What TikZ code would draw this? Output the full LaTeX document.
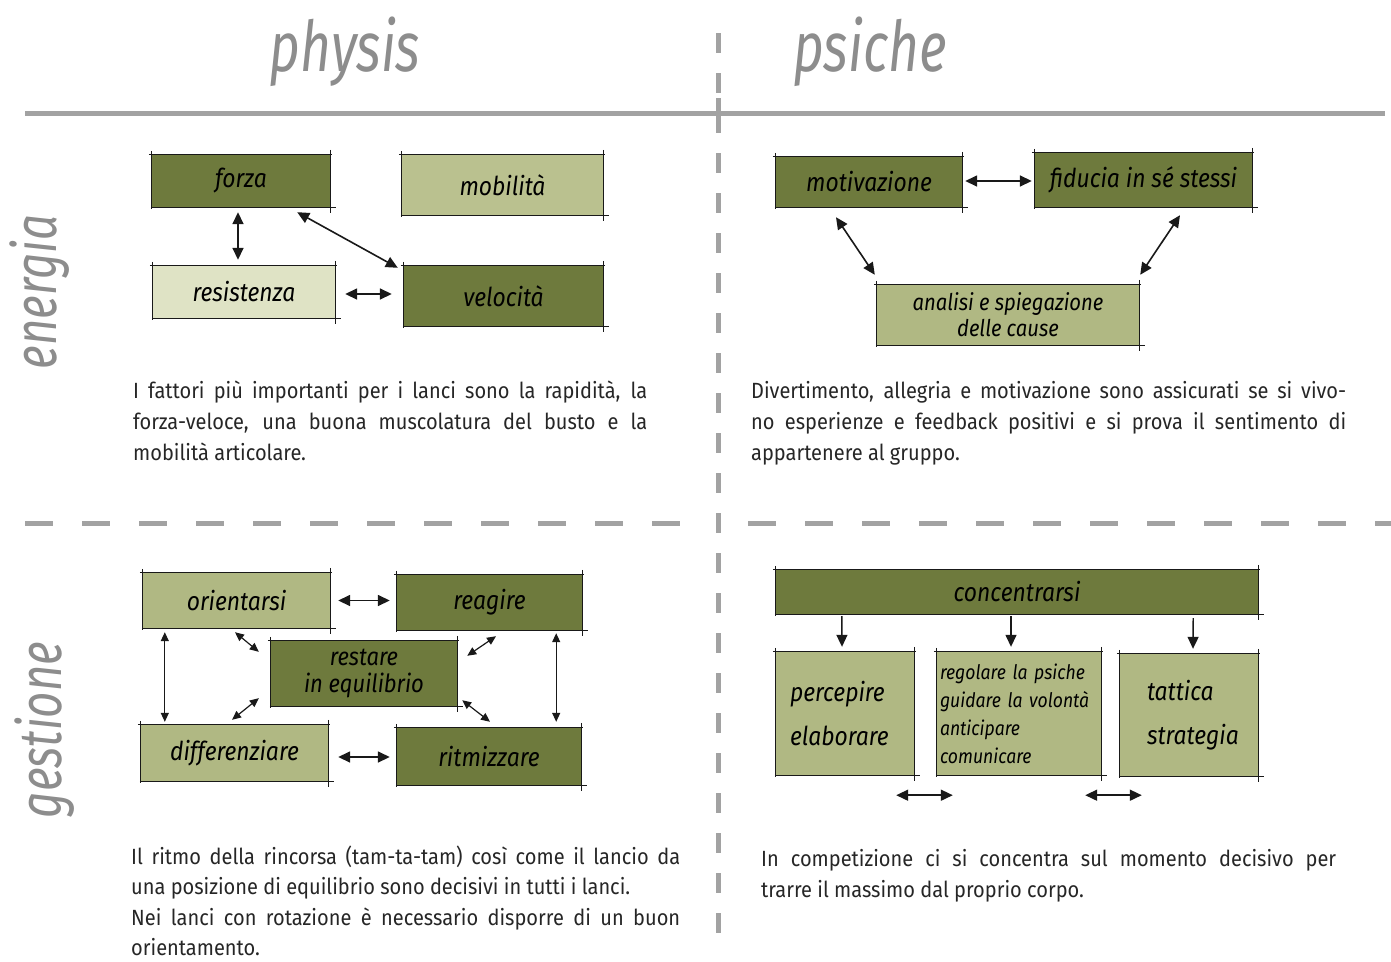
\documentclass[tikz,border=0pt]{standalone}
\usepackage{fontspec}
\setmainfont{Fira Sans}
\newfontfamily\bodyfont[FakeStretch=0.91]{Fira Sans}
\newfontfamily\hand[FakeStretch=0.88]{Fira Sans}
\newfontfamily\titlefont[FakeStretch=0.76]{Fira Sans}
\usetikzlibrary{arrows.meta,calc}
\definecolor{dkg}{HTML}{6E7A3D}
\definecolor{mdg}{HTML}{B0B883}
\definecolor{ltg}{HTML}{DFE3C5}
\definecolor{mbg}{HTML}{BAC18F}
\definecolor{ttlgray}{HTML}{8D8D8D}
\definecolor{rulegray}{HTML}{A2A2A2}
\definecolor{txt}{HTML}{262626}
\newcommand\skb[1]{\draw[skl] ($(#1.north west)+(-3,0)$) -- ($(#1.north east)+(2,0)$)
  ($(#1.south west)+(-1,0)$) -- ($(#1.south east)+(6,0)$)
  ($(#1.north west)+(0,-4)$) -- ($(#1.south west)+(0,2)$)
  ($(#1.north east)+(0,-5)$) -- ($(#1.south east)+(0,6)$);}
\begin{document}
\begin{tikzpicture}[x=1pt,y=-1pt,
  box/.style={inner sep=0pt, text=black, font=\hand\itshape\fontsize{26}{28}\selectfont, align=center},
  skl/.style={draw=black!90, line width=1.2pt},
  arr/.style={draw=black!90, line width=1.6pt, {Triangle[length=12pt,width=11pt]}-{Triangle[length=12pt,width=11pt]}},
  sarr/.style={draw=black!90, line width=1.2pt, {Triangle[length=9pt,width=8pt]}-{Triangle[length=9pt,width=8pt]}},
  darr/.style={draw=black!90, line width=1.4pt, -{Triangle[length=12pt,width=11pt]}},
  ttl/.style={text=ttlgray, font=\titlefont\itshape\fontsize{70}{74}\selectfont, inner sep=0pt},
  side/.style={text=ttlgray, font=\titlefont\itshape\fontsize{60}{64}\selectfont, inner sep=0pt, rotate=90},
  para/.style={text=txt, font=\bodyfont\fontsize{22}{31}\selectfont, inner sep=0pt, anchor=base west},
  hrule/.style={draw=rulegray, line width=5pt},
]
\useasboundingbox[fill=white] (0,0) rectangle (1391,961);

% rules
\draw[hrule] (25,113) -- (1385,113);
\draw[hrule, dash pattern=on 20pt off 20pt] (718,33) -- (718,945);
\draw[hrule] (718,98) -- (718,128);
\draw[hrule, dash pattern=on 28pt off 29pt] (25,523) -- (690,523);
\draw[hrule, dash pattern=on 28pt off 29pt] (748,523) -- (1391,523);

% titles
\node[ttl] (physis) at (345,52) {physis};
\node[ttl] (psiche) at (870,52) {psiche};
\node[side] (energia) at (40,292) {energia};
\node[side] (gestione) at (45,730) {gestione};

% ---------- energia / physis
\node[box, fill=dkg, minimum width=178pt, minimum height=52pt] (forza) at (241,181) {forza};
\node[box, fill=mbg, minimum width=201pt, minimum height=60pt] (mob) at (502.5,185) {mobilità};
\node[box, fill=ltg, minimum width=182pt, minimum height=52pt] (res) at (244,292) {resistenza};
\node[box, fill=dkg, minimum width=199pt, minimum height=60pt] (velo) at (503.5,296) {velocità};
\skb{forza}\skb{mob}\skb{res}\skb{velo}
\draw[arr] ($(forza.south)+(-3,5)$) -- ($(res.north)+(-6,-6)$);
\draw[arr] ($(forza.south east)+(-33,5)$) -- ($(velo.north west)+(-6,2)$);
\draw[arr] ($(res.east)+(10,2)$) -- ($(velo.west)+(-12,-2)$);

\node[para] (t1) at (133,398) {\parbox[t]{514pt}{I fattori più importanti per i lanci sono la rapidità, la\linebreak forza-veloce, una buona muscolatura del busto e la\linebreak mobilità articolare.}};

% ---------- energia / psiche
\node[box, fill=dkg, minimum width=186pt, minimum height=50pt] (motiv) at (869,182) {motivazione};
\node[box, fill=dkg, minimum width=217pt, minimum height=54pt] (fid) at (1143.5,180) {fiducia in sé stessi};
\node[box, fill=mdg, minimum width=262pt, minimum height=60pt, font=\hand\itshape\fontsize{23}{26}\selectfont] (anal) at (1008,315) {analisi e spiegazione\\delle cause};
\skb{motiv}\skb{fid}\skb{anal}
\draw[arr] ($(motiv.east)+(3,-1)$) -- ($(fid.west)+(-3,1)$);
\draw[arr] ($(motiv.south)+(-33,10)$) -- ($(anal.north west)+(-2,-10)$);
\draw[arr] ($(fid.south)+(36.5,8)$) -- ($(anal.north east)+(1,-10)$);

\node[para] (t2) at (751,398) {\parbox[t]{595pt}{Divertimento, allegria e motivazione sono assicurati se si vivo-\linebreak no esperienze e feedback positivi e si prova il sentimento di\linebreak appartenere al gruppo.}};

% ---------- gestione / physis
\node[box, fill=mdg, minimum width=187pt, minimum height=55pt] (ori) at (236.5,600.5) {orientarsi};
\node[box, fill=dkg, minimum width=185pt, minimum height=55pt] (rea) at (489.5,602.5) {reagire};
\node[box, fill=dkg, minimum width=186pt, minimum height=65pt, font=\hand\itshape\fontsize{25}{27}\selectfont] (rest) at (364,673.5) {restare\\in equilibrio};
\node[box, fill=mdg, minimum width=187pt, minimum height=56pt] (diff) at (234.5,753) {differenziare};
\node[box, fill=dkg, minimum width=184pt, minimum height=57pt] (ritm) at (489,756.5) {ritmizzare};
\skb{ori}\skb{rea}\skb{rest}\skb{diff}\skb{ritm}
\draw[arr] ($(ori.east)+(8,0)$) -- ($(rea.west)+(-7,-2)$);
\draw[arr] ($(diff.east)+(10,4)$) -- ($(ritm.west)+(-7,0.5)$);
\draw[sarr] ($(ori.south west)+(22,4)$) -- ($(diff.north west)+(24,-3)$);
\draw[sarr] ($(rea.south east)+(-26,3)$) -- ($(ritm.north east)+(-25,-6)$);
\draw[sarr] ($(ori.south)+(-1.5,4)$) -- ($(rest.north west)+(-12,11)$);
\draw[sarr] ($(rea.south)+(6.5,6)$) -- ($(rest.north east)+(10,15)$);
\draw[sarr] ($(diff.north)+(-2.5,-5)$) -- ($(rest.south west)+(-12,-8)$);
\draw[sarr] ($(ritm.north)+(1,-6)$) -- ($(rest.south east)+(5,-6)$);

\node[para, font=\bodyfont\fontsize{22}{30.5}\selectfont] (t3) at (131,864) {\parbox[t]{549pt}{Il ritmo della rincorsa (tam-ta-tam) così come il lancio da\linebreak una posizione di equilibrio sono decisivi in tutti i lanci.\\ Nei lanci con rotazione è necessario disporre di un buon\linebreak orientamento.}};

% ---------- gestione / psiche
\node[box, fill=dkg, minimum width=482pt, minimum height=44pt] (conc) at (1017,592) {concentrarsi};
\node[box, fill=mdg, minimum width=138pt, minimum height=123pt, text width=110pt, align=left, font=\hand\itshape\fontsize{26}{44}\selectfont] (perc) at (845,713.5) {percepire\\elaborare};
\node[box, fill=mdg, minimum width=164pt, minimum height=123pt, text width=158pt, align=left, font=\hand\itshape\fontsize{20}{28}\selectfont] (reg) at (1019,713.5) {regolare la psiche\\guidare la volontà\\anticipare\\comunicare};
\node[box, fill=mdg, minimum width=138pt, minimum height=122pt, text width=84pt, align=left, font=\hand\itshape\fontsize{26}{44}\selectfont] (tat) at (1189,715) {tattica\\strategia};
\skb{conc}\skb{perc}\skb{reg}\skb{tat}
\draw[darr] ($(conc.south west)+(66,2)$) -- ($(perc.north)+(-3,-5)$);
\draw[darr] ($(conc.south)+(-6,2)$) -- ($(reg.north)+(-8,-5)$);
\draw[darr] ($(conc.south east)+(-65,4)$) -- ($(tat.north)+(4,-5)$);
\draw[arr] ($(perc.south east)+(-18,20)$) -- ($(reg.south west)+(16,20)$);
\draw[arr] ($(reg.south east)+(-16,20)$) -- ($(tat.south west)+(22,19)$);

\node[para] (t4) at (761,866) {\parbox[t]{575pt}{In competizione ci si concentra sul momento decisivo per\linebreak trarre il massimo dal proprio corpo.}};
\end{tikzpicture}
\end{document}
